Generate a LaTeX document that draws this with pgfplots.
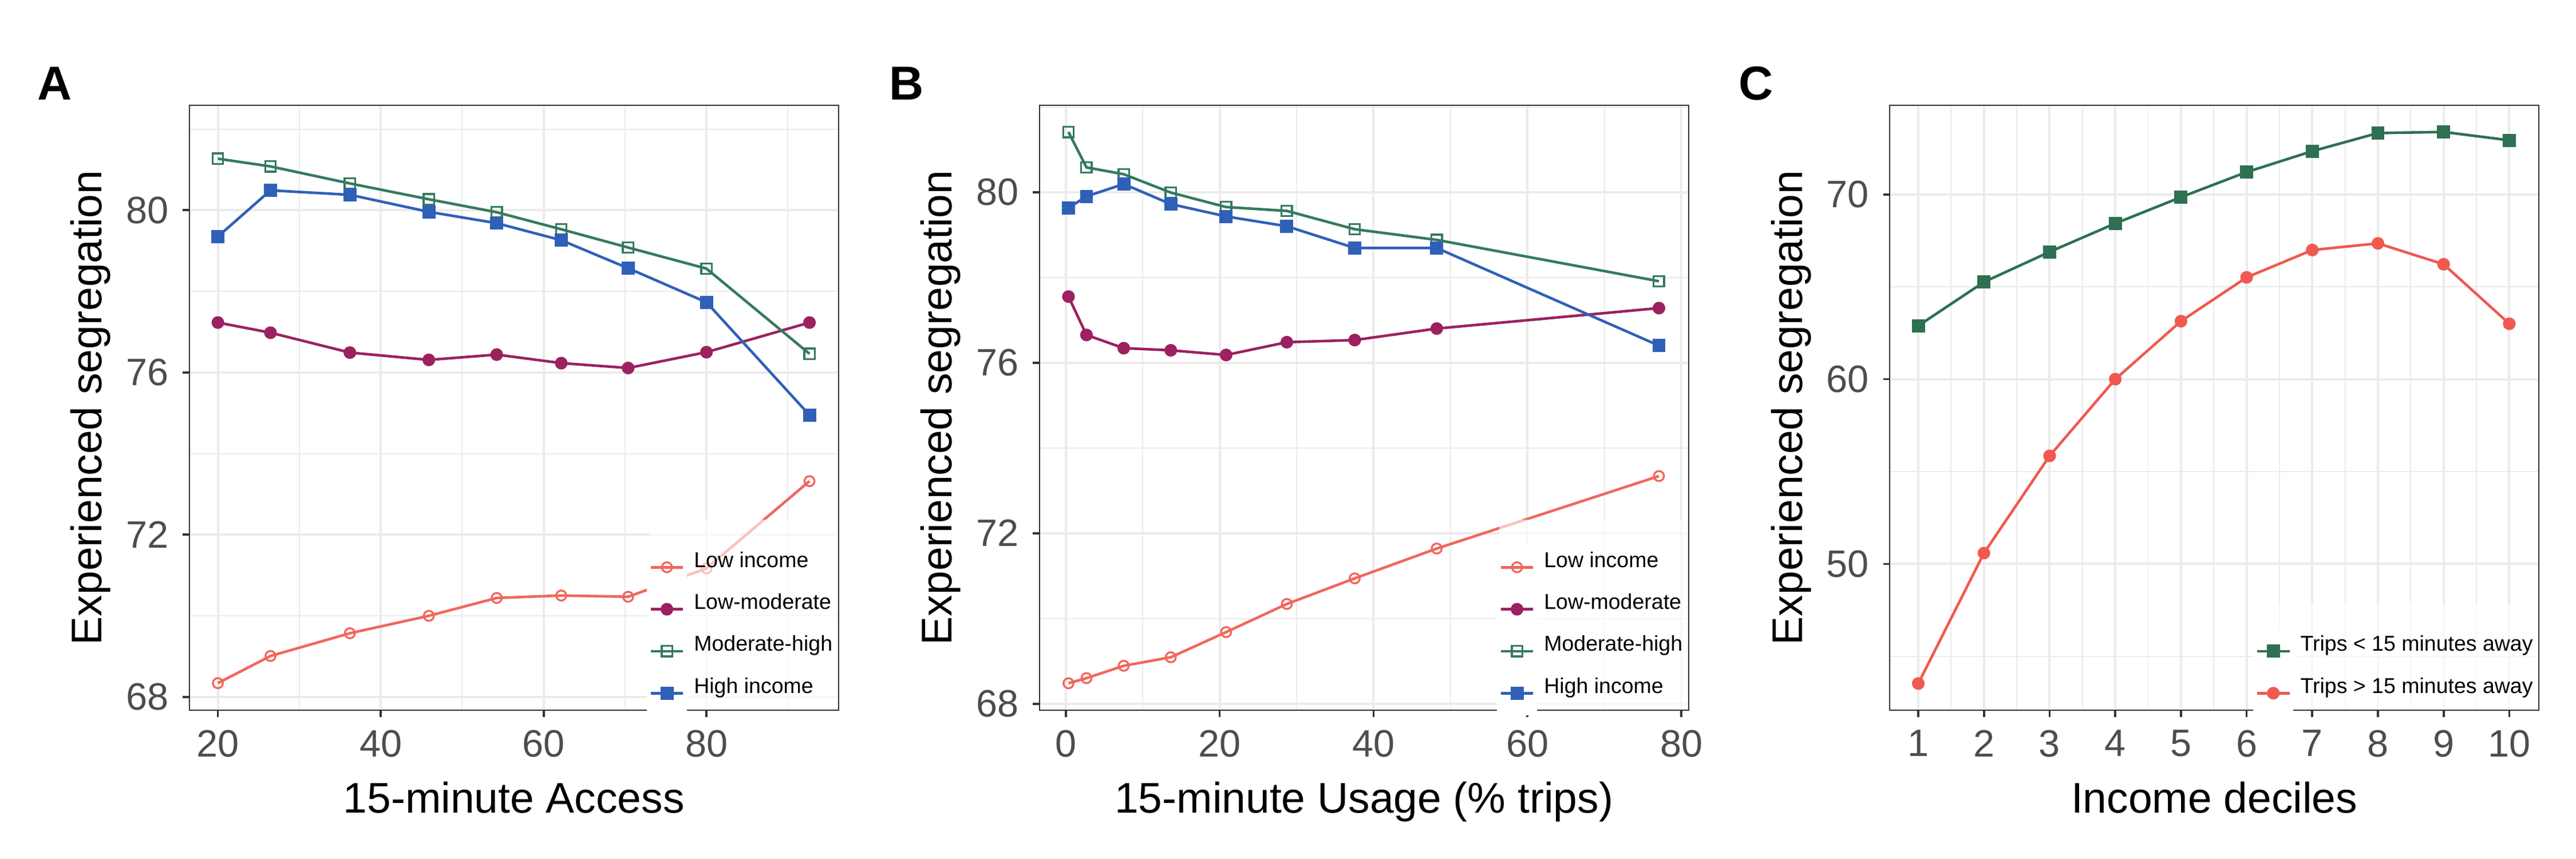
\documentclass[border=0pt]{standalone}
\usepackage{fontspec}
\setmainfont{Liberation Sans}
\usepackage{pgfplots}
\pgfplotsset{compat=1.18}

\definecolor{lowinc}{HTML}{F0675C}
\definecolor{lowmod}{HTML}{9B2160}
\definecolor{modhigh}{HTML}{357A5E}
\definecolor{highinc}{HTML}{2F60B8}
\definecolor{cgreen}{HTML}{2D7052}
\definecolor{cred}{HTML}{F0594F}
\definecolor{gridgray}{HTML}{EBEBEB}
\definecolor{axisgray}{HTML}{333333}
\definecolor{ticklab}{HTML}{4D4D4D}

\pgfplotsset{
  panel/.style={
    scale only axis, width=272.1pt, height=253.7pt,
    anchor=south west,
    axis line style={draw=axisgray, line width=0.5pt},
    tick align=outside,
    xtick pos=bottom, ytick pos=left,
    tick style={draw=axisgray, line width=0.9pt},
    major tick length=2.8pt,
    minor tick length=0pt,
    grid=both,
    major grid style={draw=gridgray, line width=0.95pt},
    minor grid style={draw=gridgray, line width=0.45pt},
    /pgf/number format/assume math mode=true,
    ticklabel style={font=\fontsize{16}{16}\selectfont, text=ticklab},
    xticklabel style={anchor=north, inner sep=0pt, yshift=-5.4pt},
    yticklabel style={anchor=east, inner sep=0pt, xshift=-5.8pt},
    every axis x label/.style={at={([yshift=-43.2pt]axis description cs:0.5,0)}, anchor=base},
    every axis y label/.style={at={([xshift=-36.7pt]axis description cs:0,0.5)}, rotate=90, anchor=base},
    label style={font=\fontsize{18}{18}\selectfont},
    ylabel={Experienced segregation},
    legend style={
      at={(axis description cs:1,0)}, anchor=south east, xshift=-0.3pt,
      draw=none, fill=white, fill opacity=0.6, text opacity=1,
      inner xsep=0pt, inner ysep=3.4pt,
      row sep=5.6pt, column sep=2pt,
      font=\fontsize{9}{9}\selectfont,
      cells={fill opacity=1, text opacity=1, inner sep=0pt, text height=6.5pt, text depth=1.9pt, anchor=base west},
    },
    legend image code/.code={
      \fill[white,overlay] (-1pt,-8.7pt) rectangle (14.6pt,8.7pt);
      \draw[mark repeat=2, mark phase=2, ##1] plot coordinates {(0pt,0pt) (6.8pt,0pt) (13.6pt,0pt)};
    },
  },
  ser/.style={line width=1.1pt, mark options={solid}},
}

\pgfplotstableread{
x     low    lowmod  modhigh  high
20.00 68.34  77.23   81.27    79.35
26.46 69.01  76.98   81.08    80.49
36.21 69.57  76.49   80.66    80.38
45.90 70.00  76.31   80.27    79.96
54.24 70.44  76.44   79.95    79.68
62.17 70.50  76.23   79.53    79.26
70.38 70.47  76.11   79.08    78.57
80.00 71.17  76.50   78.56    77.73
92.65 73.32  77.23   76.46    74.95
}\tableA

\pgfplotstableread{
x     low    lowmod  modhigh  high
0.36  68.48  77.55   81.41    79.63
2.70  68.60  76.65   80.58    79.90
7.54  68.89  76.34   80.42    80.19
13.65 69.09  76.29   79.99    79.72
20.84 69.68  76.18   79.65    79.43
28.73 70.34  76.48   79.56    79.20
37.55 70.94  76.53   79.13    78.69
48.21 71.64  76.80   78.88    78.69
77.08 73.34  77.28   77.91    76.40
}\tableB

\pgfplotstableread{
x   near   far
1   62.89  43.53
2   65.26  50.59
3   66.89  55.85
4   68.43  60.00
5   69.85  63.14
6   71.21  65.51
7   72.34  66.99
8   73.32  67.35
9   73.38  66.22
10  72.93  63.00
}\tableC

\begin{document}
\begin{tikzpicture}
\useasboundingbox (0,0) rectangle (1080pt,360pt);

% ---------- A ----------
\begin{axis}[panel, name=pA, at={(79.4pt,62.2pt)},
  xmin=16.5, xmax=96.2, ymin=67.675, ymax=82.59,
  xtick={20,40,60,80}, minor xtick={30,50,70,90},
  ytick={68,72,76,80}, minor ytick={70,74,78,82},
  xlabel={15-minute Access}]
\addplot[ser, color=lowinc, mark=o, mark size=2.1pt, mark options={line width=0.8pt}] table[x=x,y=low] {\tableA};
\addlegendentry[text height=14.6pt]{Low income}
\addplot[ser, color=lowmod, mark=*, mark size=2.1pt] table[x=x,y=lowmod] {\tableA};
\addlegendentry{Low-moderate}
\addplot[ser, color=modhigh, mark=square, mark size=2.2pt, mark options={line width=0.8pt}] table[x=x,y=modhigh] {\tableA};
\addlegendentry{Moderate-high}
\addplot[ser, color=highinc, mark=square*, mark size=2.2pt] table[x=x,y=high] {\tableA};
\addlegendentry{High income}
\end{axis}

% ---------- B ----------
\begin{axis}[panel, name=pB, at={(435.8pt,62.2pt)},
  xmin=-3.41, xmax=80.92, ymin=67.85, ymax=82.04,
  xtick={0,20,40,60,80}, minor xtick={10,30,50,70},
  ytick={68,72,76,80}, minor ytick={70,74,78,82},
  xlabel={15-minute Usage (\% trips)}]
\addplot[ser, color=lowinc, mark=o, mark size=2.1pt, mark options={line width=0.8pt}] table[x=x,y=low] {\tableB};
\addlegendentry[text height=14.6pt]{Low income}
\addplot[ser, color=lowmod, mark=*, mark size=2.1pt] table[x=x,y=lowmod] {\tableB};
\addlegendentry{Low-moderate}
\addplot[ser, color=modhigh, mark=square, mark size=2.2pt, mark options={line width=0.8pt}] table[x=x,y=modhigh] {\tableB};
\addlegendentry{Moderate-high}
\addplot[ser, color=highinc, mark=square*, mark size=2.2pt] table[x=x,y=high] {\tableB};
\addlegendentry{High income}
\end{axis}

% ---------- C ----------
\begin{axis}[panel, name=pC, at={(792.3pt,62.2pt)},
  xmin=0.566, xmax=10.45, ymin=42.09, ymax=74.83,
  xtick={1,2,3,4,5,6,7,8,9,10}, minor xtick={1.5,2.5,3.5,4.5,5.5,6.5,7.5,8.5,9.5},
  ytick={50,60,70}, minor ytick={45,55,65},
  xlabel={Income deciles}]
\addplot[ser, color=cgreen, mark=square*, mark size=2.2pt] table[x=x,y=near] {\tableC};
\addlegendentry[text height=14.6pt]{Trips < 15 minutes away}
\addplot[ser, color=cred, mark=*, mark size=2.1pt] table[x=x,y=far] {\tableC};
\addlegendentry{Trips > 15 minutes away}
\end{axis}

\begin{scope}[every node/.style={anchor=base west, inner sep=0pt, font=\bfseries\fontsize{20}{20}\selectfont}]
\node at ([xshift=-63.8pt,yshift=2.3pt]pA.north west) {A};
\node at ([xshift=-63.2pt,yshift=2.3pt]pB.north west) {B};
\node at ([xshift=-63.6pt,yshift=2.3pt]pC.north west) {C};
\end{scope}
\end{tikzpicture}
\end{document}
